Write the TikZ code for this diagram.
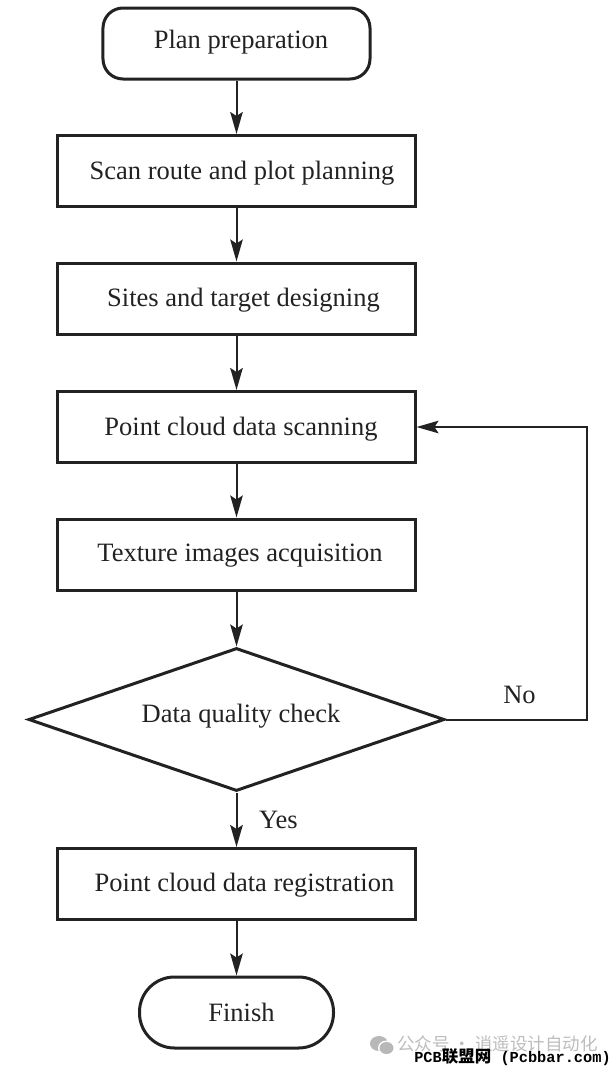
\documentclass[tikz,border=0pt]{standalone}
\usepackage{fontspec}
\setmainfont{Liberation Serif}
\setmonofont{Liberation Mono}
\newfontfamily\cjk{Noto Sans CJK SC}
\usetikzlibrary{arrows.meta,shapes.geometric}
\definecolor{ink}{HTML}{222222}
% \steptext{dx}{drop}{text}: text centre dx/2 right of the box centre, baseline drop below it
\newcommand{\steptext}[3]{\smash{\raisebox{-#2}{\hspace*{#1}#3}}}
\tikzset{
  x=1bp,y=-1bp,
  every node/.style={text=ink,font=\fontsize{26.5bp}{30bp}\selectfont},
  outline/.style={draw=ink,line width=3bp,fill=white,inner sep=0pt},
  processbox/.style={outline,rectangle,minimum width=357bp,minimum height=71bp},
  startbox/.style={outline,rectangle,rounded corners=20bp,minimum width=267bp,minimum height=71bp},
  endbox/.style={outline,rectangle,rounded corners=35bp,minimum width=194bp,minimum height=71bp},
  decisionbox/.style={outline,diamond,aspect=2.91,minimum width=416bp,minimum height=143bp},
  flow/.style={draw=ink,line width=2bp,-{Stealth[length=22bp,width=12.5bp,inset=4bp]}},
  caption/.style={inner sep=0pt,anchor=base}
}
\begin{document}
\begin{tikzpicture}
\useasboundingbox (0,0) rectangle (616,1071);
\fill[white] (0,0) rectangle (616,1071);

% Flow steps, top to bottom
\node[startbox]    (plan)    at (236.5,43.5)  {\steptext{9bp}{4.8bp}{Plan preparation}};
\node[processbox]  (route)   at (236.5,171)   {\steptext{11bp}{8.2bp}{Scan route and plot planning}};
\node[processbox]  (sites)   at (236.5,298.5) {\steptext{14bp}{7.5bp}{Sites and target designing}};
\node[processbox]  (scan)    at (236.5,427)   {\steptext{9bp}{8bp}{Point cloud data scanning}};
\node[processbox]  (texture) at (236.5,554.5) {\steptext{7bp}{7bp}{Texture images acquisition}};
\node[decisionbox] (check)   at (236.5,719.5) {\steptext{9bp}{3bp}{Data quality check}};
\node[processbox]  (reg)     at (236.5,884)   {\steptext{16bp}{7.7bp}{Point cloud data registration}};
\node[endbox]      (finish)  at (236.5,1012.5) {\steptext{10bp}{8.5bp}{Finish}};

% Straight connectors
\draw[flow] (plan) -- (route);
\draw[flow] (route) -- (sites);
\draw[flow] (sites) -- (scan);
\draw[flow] (scan) -- (texture);
\draw[flow] (texture) -- (check);
\draw[flow] (check) -- (reg);
\draw[flow] (reg) -- (finish);

% Rework loop from the quality check back to scanning
\coordinate (loopcorner) at (587,719.5);
\draw[flow] (check.east) -- (loopcorner) |- (scan.east);

% Branch labels
\node[caption] (yes) at (278.5,828) {Yes};
\node[caption] (no)  at (519.5,703) {No};

% Footer marks in the lower right corner
\fill[black!28] (379,1043.5) ellipse (9bp and 7.5bp);
\fill[white] (386.5,1048) ellipse (8.5bp and 7.5bp);
\fill[black!28] (386.5,1048) ellipse (7bp and 6bp);
\node[caption,text=black!26,font=\cjk\fontsize{17.5bp}{18bp}\selectfont] (account) at (497.5,1050) {公众号 · 逍遥设计自动化};
\node[caption,text=black,font=\fontsize{15.3bp}{18bp}\selectfont] (site) at (512.5,1062) {\texttt{\bfseries PCB}{\cjk\fontsize{16.5bp}{18bp}\selectfont\bfseries 联盟网}\texttt{\bfseries{} (Pcbbar.com)}};
\end{tikzpicture}
\end{document}
